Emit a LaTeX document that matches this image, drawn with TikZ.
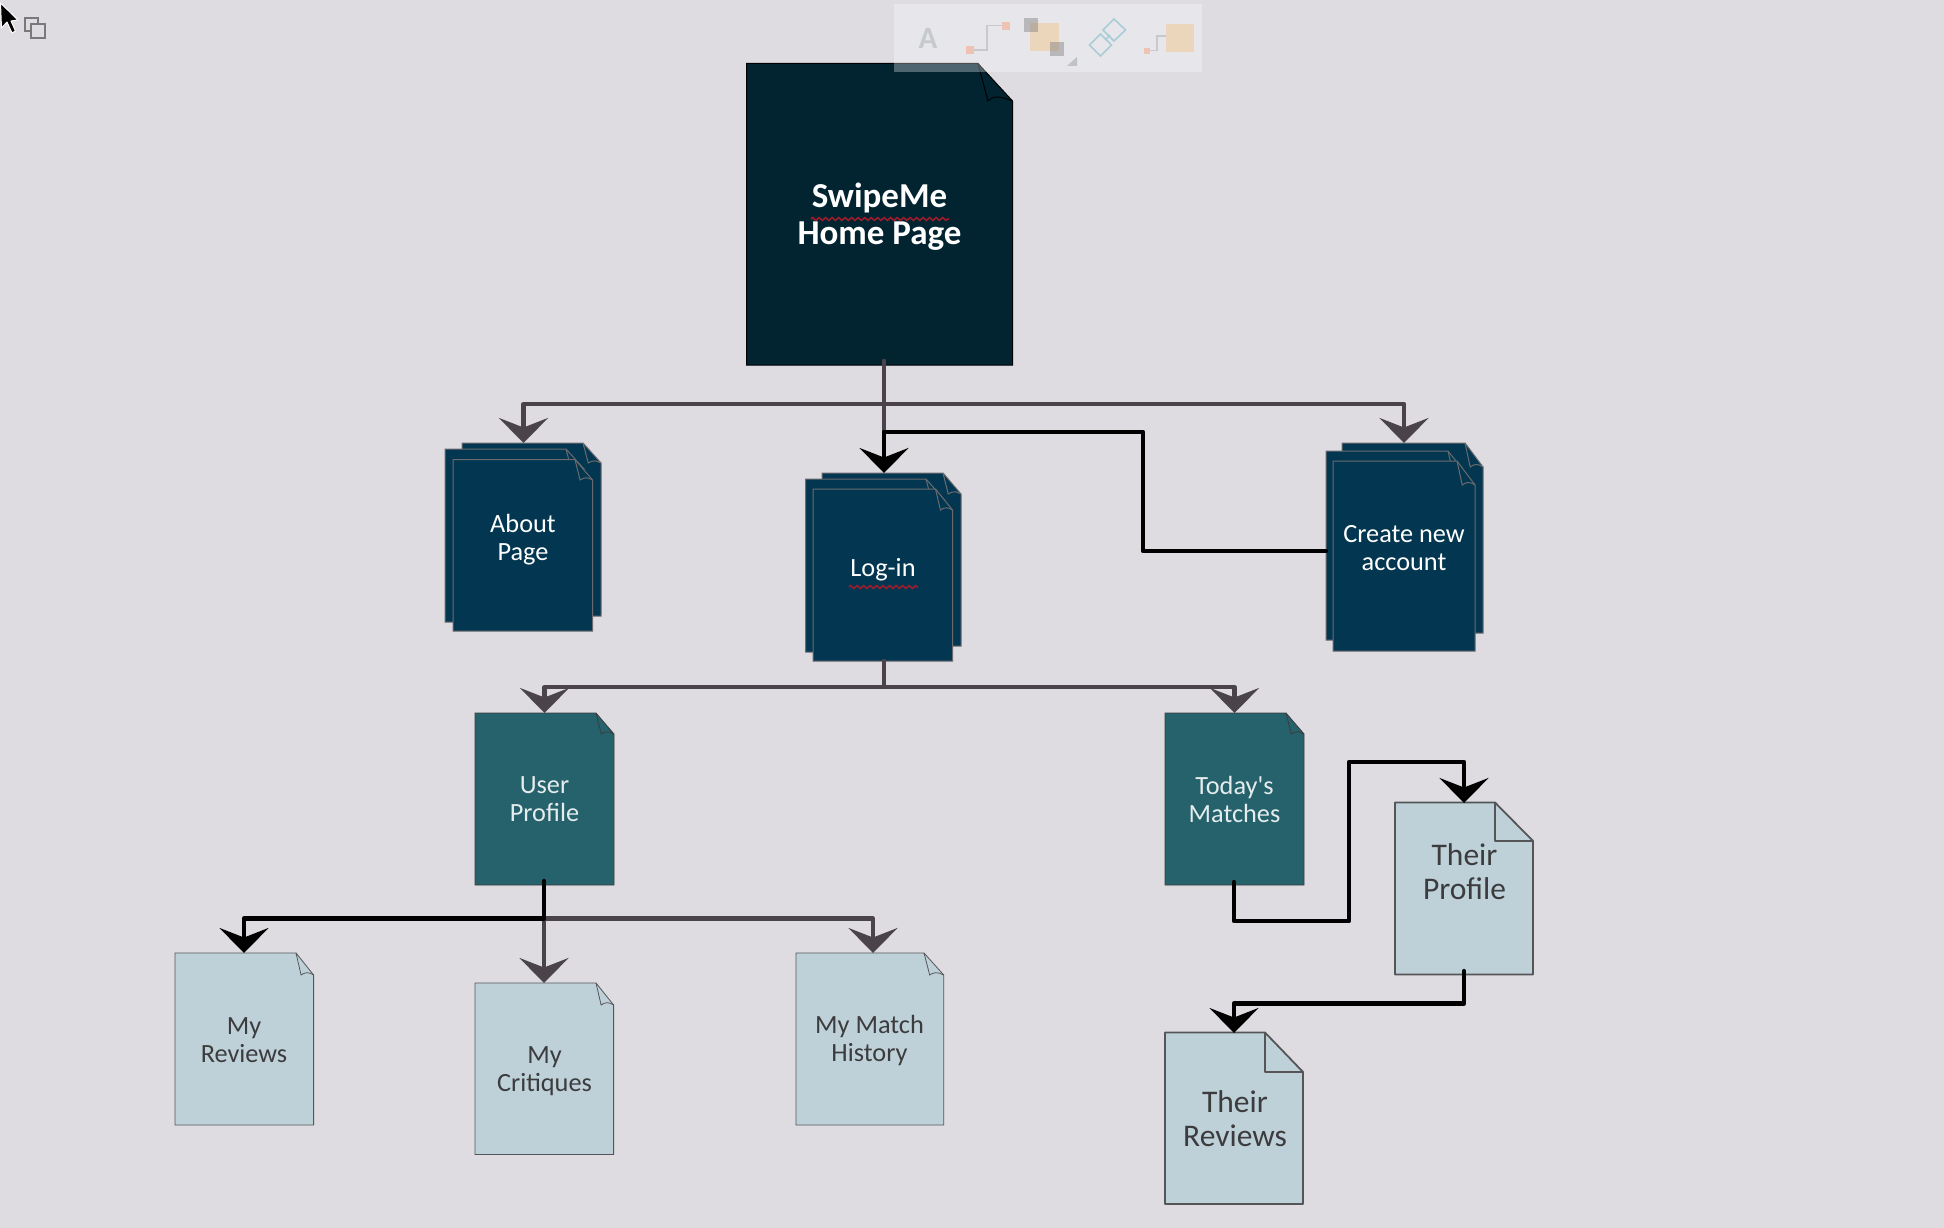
\documentclass[tikz,border=0pt]{standalone}
\usepackage{fontspec}
\setmainfont{Carlito}
\newfontfamily\straightfont{Carlito}
\usetikzlibrary{arrows.meta,decorations.pathmorphing}
\definecolor{bgc}{HTML}{DEDCE1}
\definecolor{homec}{HTML}{022431}
\definecolor{navyc}{HTML}{033751}
\definecolor{tealc}{HTML}{26626C}
\definecolor{lightc}{HTML}{BED1D9}
\definecolor{connc}{HTML}{4A444A}
\definecolor{edgec}{HTML}{6A6A6E}
\definecolor{edged}{HTML}{555558}
\definecolor{inkc}{HTML}{3C3C3E}
\definecolor{squigc}{HTML}{A01C2C}
\definecolor{pinkc}{HTML}{EFC3B4}
\definecolor{orangec}{HTML}{EBD5BB}
\definecolor{linkc}{HTML}{A8CDD8}
\definecolor{iconc}{HTML}{C6CACC}
\tikzset{
  x=1pt,y=-1pt,
  boxnode/.style={inner sep=0pt,outer sep=0pt},
  homepage/.style={fill=homec,draw=black,line width=1pt},
  navypage/.style={fill=navyc,draw=edgec,line width=1pt},
  tealpage/.style={fill=tealc,draw=inkc,line width=.8pt},
  lightpage/.style={fill=lightc,draw=edged,line width=.8pt},
  theirpage/.style={fill=lightc,draw=edged,line width=1.8pt,line join=round},
  label text/.style={inner sep=0pt,align=center,font=\fontsize{26.3}{28}\selectfont},
  navytext/.style={label text,text=white},
  tealtext/.style={label text,text=white!88!tealc},
  lighttext/.style={label text,text=inkc},
  theirtext/.style={inner sep=0pt,align=center,font=\fontsize{31.5}{34.5}\selectfont,text=inkc},
  hometext/.style={inner sep=0pt,align=center,font=\fontsize{35}{37}\selectfont\bfseries,text=white},
  conngray/.style={draw=connc,line width=4.2pt,line join=round,line cap=round},
  connblack/.style={draw=black,line width=4.4pt,line join=round,line cap=round},
  swallow/.style={-{Stealth[length=25pt,width=49pt,inset=9.5pt]}},
  squig/.style={draw=squigc,line width=1.5pt,decorate,decoration={zigzag,amplitude=1.5pt,segment length=6.5pt}},
}
% name, x1,y1,x2,y2, foldx, foldy, style
\newcommand{\curlpage}[8]{%
  \path[#8] (#2,#3) -- (#6,#3) -- (#4,#7) -- (#4,#5) -- (#2,#5) -- cycle;
  \pgfmathsetmacro{\cxx}{#6+0.29*(#4-#6)}
  \pgfmathsetmacro{\cqa}{\cxx+0.22*(#4-#6)}
  \pgfmathsetmacro{\cqb}{#7-0.14*(#7-#3)}
  \draw[#8,fill=none] (#6,#3) -- (\cxx,#7) .. controls (\cxx+4,\cqb) and (\cqa+4,\cqb) .. (#4,#7);
  \pgfmathsetmacro{\wid}{#4-#2}
  \pgfmathsetmacro{\hgt}{#5-#3}
  \node[boxnode,minimum width=\wid pt,minimum height=\hgt pt] (#1) at ({(#2+#4)/2},{(#3+#5)/2}) {};
}
\newcommand{\dogpage}[8]{%
  \path[#8] (#2,#3) -- (#6,#3) -- (#4,#7) -- (#4,#5) -- (#2,#5) -- cycle;
  \draw[#8,fill=none] (#6,#3) -- (#6,#7) -- (#4,#7);
  \pgfmathsetmacro{\wid}{#4-#2}
  \pgfmathsetmacro{\hgt}{#5-#3}
  \node[boxnode,minimum width=\wid pt,minimum height=\hgt pt] (#1) at ({(#2+#4)/2},{(#3+#5)/2}) {};
}
\begin{document}
\begin{tikzpicture}
\useasboundingbox (0,0) rectangle (1944,1228);
\fill[bgc] (0,0) rectangle (1944,1228);

% home page
\curlpage{home}{746.5}{63.5}{1012.5}{365}{978}{101}{homepage}
\node[hometext] (homeT) at (879.5,217) {SwipeMe\\Home Page};

% stacks
\curlpage{aboutB}{462}{443}{601}{616}{583}{463}{navypage}
\curlpage{aboutM}{445}{449}{584}{622}{566}{469}{navypage}
\curlpage{about}{453}{459.5}{592.5}{631}{575}{480}{navypage}
\node[navytext] (aboutT) at (523,539.5) {About\\Page};

\curlpage{loginB}{822}{473}{961}{646}{943}{494}{navypage}
\curlpage{loginM}{805.5}{479}{944.5}{652}{926}{500}{navypage}
\curlpage{login}{813}{489}{952.5}{661}{935.5}{510}{navypage}
\node[navytext] (loginT) at (883,570) {Log-in};

\curlpage{createB}{1342}{443}{1483}{633}{1465}{467}{navypage}
\curlpage{createM}{1326}{451}{1467}{640}{1448}{475}{navypage}
\curlpage{create}{1333}{461}{1475}{651}{1457}{485}{navypage}
\node[navytext] (createT) at (1404,548) {Create new\\account};

% teal pages
\curlpage{user}{475}{713}{614}{885}{596}{734}{tealpage}
\node[tealtext] (userT) at (544.5,799.5) {User\\Profile};
\curlpage{today}{1165}{713}{1304}{885}{1286}{734}{tealpage}
\node[tealtext] (todayT) at (1234.5,799) {Today{\straightfont'}s\\Matches};

% light pages
\curlpage{reviews}{175}{953}{313.6}{1125}{296}{975}{lightpage}
\node[lighttext] (reviewsT) at (244,1040) {My\\Reviews};
\curlpage{critiques}{475}{983}{613.6}{1154.5}{596}{1005}{lightpage}
\node[lighttext] (critiquesT) at (544.5,1071) {My\\Critiques};
\curlpage{history}{796}{953}{943.7}{1125}{924}{975}{lightpage}
\node[lighttext] (historyT) at (869.5,1040.5) {My Match\\History};

\dogpage{tprofile}{1395}{802.5}{1533}{974.5}{1495}{841}{theirpage}
\node[theirtext] (tprofileT) at (1464.5,871.5) {Their\\Profile};
\dogpage{treviews}{1165}{1032.5}{1303}{1204}{1265}{1072}{theirpage}
\node[theirtext] (treviewsT) at (1235,1118.5) {Their\\Reviews};

% squiggles
\coordinate (sqA) at (811,219);
\coordinate (sqB) at (949,219);
\draw[squig] (sqA) -- (sqB);
\coordinate (sqC) at (849,587);
\coordinate (sqD) at (918,587);
\draw[squig] (sqC) -- (sqD);

% connector points
\coordinate (homeOut) at (884,361);
\coordinate (hubHome) at (884,404);
\coordinate (aboutIn) at (523.5,443);
\coordinate (loginIn) at (884,473);
\coordinate (createIn) at (1404,443);
\coordinate (createOut) at (1326,551);
\coordinate (bendA) at (1143,551);
\coordinate (bendB) at (1143,432);
\coordinate (hubLogin) at (884,432);
\coordinate (loginOut) at (884,661);
\coordinate (hubLower) at (884,687);
\coordinate (userIn) at (544.5,713);
\coordinate (todayIn) at (1234.5,713);
\coordinate (userOut) at (544,881);
\coordinate (hubUser) at (544,918.5);
\coordinate (reviewsIn) at (244,953);
\coordinate (critiquesIn) at (544,983);
\coordinate (historyIn) at (873,953);
\coordinate (todayOut) at (1234,882);
\coordinate (tA) at (1234,921);
\coordinate (tB) at (1349,921);
\coordinate (tC) at (1349,762);
\coordinate (tprofileIn) at (1464,803);
\coordinate (tprofileOut) at (1464,971);
\coordinate (tD) at (1464,1003.5);
\coordinate (treviewsIn) at (1234,1033);

% connectors
\draw[conngray,swallow] (homeOut) -- (hubHome) -| (aboutIn);
\draw[conngray,swallow] (homeOut) -- (hubHome) -| (createIn);
\draw[conngray] (hubHome) -- (hubLogin);
\draw[connblack,swallow] (createOut) -- (bendA) -- (bendB) -- (hubLogin) -- (loginIn);
\draw[conngray,swallow] (loginOut) -- (hubLower) -| (userIn);
\draw[conngray,swallow] (loginOut) -- (hubLower) -| (todayIn);
\draw[conngray,swallow] (hubUser) -- (critiquesIn);
\draw[conngray,swallow] (hubUser) -| (historyIn);
\draw[connblack,swallow] (userOut) -- (hubUser) -| (reviewsIn);
\draw[connblack,swallow] (todayOut) -- (tA) -- (tB) -- (tC) -| (tprofileIn);
\draw[connblack,swallow] (tprofileOut) -- (tD) -| (treviewsIn);

% toolbar overlay
\fill[white,opacity=.3] (894,4) rectangle (1202,72);
\node[inner sep=0pt,font=\fontsize{31}{31}\selectfont\bfseries,text=iconc] (iconA) at (928,38) {A};
\draw[iconc,line width=1.5pt] (970,50) -- (987,50) -- (987,25.5) -- (1006,25.5);
\fill[pinkc] (966,46) rectangle (974,54);
\fill[pinkc] (1002,22) rectangle (1010,30);
\fill[orangec] (1030,23) rectangle (1059,51);
\fill[gray,opacity=.45] (1024,18) rectangle (1038,32);
\fill[gray,opacity=.45] (1050,42) rectangle (1064,56);
\fill[iconc!90!gray] (1077,57) -- (1077,66) -- (1067,66) -- cycle;
\draw[linkc,line width=1.6pt] (1114,19) -- (1125.5,30) -- (1114,41) -- (1103,30) -- cycle;
\draw[linkc,line width=1.6pt] (1100.5,34) -- (1111.5,45) -- (1100.5,56) -- (1089.5,45) -- cycle;
\draw[linkc,line width=1.4pt] (1105,40) -- (1110,35);
\draw[iconc,line width=1.5pt] (1148,50.5) -- (1157,50.5) -- (1157,36) -- (1168,36);
\fill[pinkc] (1144,48) rectangle (1150,54);
\fill[orangec] (1166,24) rectangle (1194,52);

% cursor and clone icon
\draw[fill=black,draw=white,line width=1pt,line join=round] (0.5,3) -- (1.5,28) -- (7,22) -- (12,33) -- (15.5,31) -- (11,21) -- (18,20) -- cycle;
\draw[fill=bgc,draw=gray!95!black,line width=1.6pt] (25,18) rectangle (38,31);
\draw[fill=bgc,draw=gray!95!black,line width=1.6pt] (31,24) rectangle (45,38);
\end{tikzpicture}
\end{document}
